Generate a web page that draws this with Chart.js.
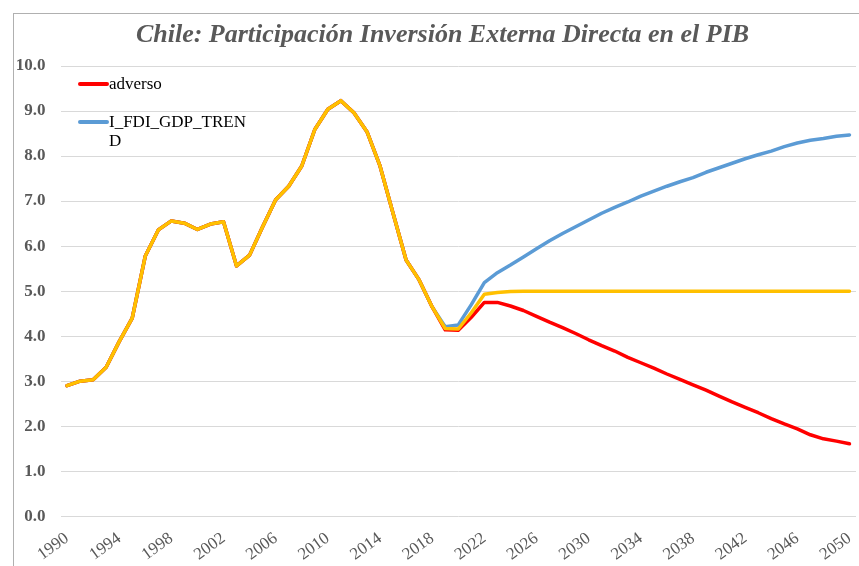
<!DOCTYPE html>
<html>
<head>
<meta charset="utf-8">
<script src="https://cdn.jsdelivr.net/npm/chart.js@4.4.1/dist/chart.umd.min.js"></script>
<style>
  html, body { margin: 0; padding: 0; background: #ffffff; }
  #wrap { width: 859px; height: 566px; }
</style>
</head>
<body>
<div id="wrap"><canvas id="c" width="859" height="566"></canvas></div>
<script>
const years = ['1990','1991','1992','1993','1994','1995','1996','1997','1998','1999',
  '2000','2001','2002','2003','2004','2005','2006','2007','2008','2009',
  '2010','2011','2012','2013','2014','2015','2016','2017','2018','2019',
  '2020','2021','2022','2023','2024','2025','2026','2027','2028','2029',
  '2030','2031','2032','2033','2034','2035','2036','2037','2038','2039',
  '2040','2041','2042','2043','2044','2045','2046','2047','2048','2049','2050'];

// Shared history 1990-2018
const history = [2.90, 3.00, 3.03, 3.31, 3.88, 4.40, 5.78, 6.36, 6.56, 6.51,
  6.37, 6.49, 6.54, 5.56, 5.80, 6.43, 7.03, 7.33, 7.78, 8.59,
  9.04, 9.23, 8.96, 8.54, 7.78, 6.73, 5.69, 5.25, 4.65];

// 2019-2050
const adversoTail = [4.14, 4.13, 4.42, 4.75, 4.75, 4.67, 4.57, 4.44, 4.31, 4.19,
  4.06, 3.92, 3.79, 3.67, 3.53, 3.41, 3.29, 3.16, 3.04, 2.92,
  2.80, 2.67, 2.54, 2.42, 2.30, 2.17, 2.05, 1.94, 1.81, 1.72, 1.67, 1.61];
const trendTail = [4.21, 4.25, 4.70, 5.19, 5.41, 5.58, 5.76, 5.94, 6.12, 6.28,
  6.43, 6.58, 6.73, 6.86, 6.98, 7.11, 7.22, 7.33, 7.43, 7.52,
  7.64, 7.74, 7.84, 7.94, 8.03, 8.11, 8.21, 8.29, 8.35, 8.39, 8.44, 8.47];
const baseTail = [4.17, 4.16, 4.52, 4.93, 4.97, 4.99, 5.00, 5.00, 5.00, 5.00,
  5.00, 5.00, 5.00, 5.00, 5.00, 5.00, 5.00, 5.00, 5.00, 5.00,
  5.00, 5.00, 5.00, 5.00, 5.00, 5.00, 5.00, 5.00, 5.00, 5.00, 5.00, 5.00];

const seriesNames = ['adverso', 'I_FDI_GDP_TREND', 'base'];
const titleText = 'Chile: Participación Inversión Externa Directa en el PIB';

const adverso = history.concat(adversoTail);
const trend = history.concat(trendTail);
const base = history.concat(baseTail);

const SERIF = '"Liberation Serif", "Times New Roman", serif';

const frameAndBg = {
  id: 'frameAndBg',
  beforeDraw(chart) {
    const ctx = chart.ctx;
    ctx.save();
    ctx.fillStyle = '#ffffff';
    ctx.fillRect(0, 0, chart.width, chart.height);
    ctx.strokeStyle = '#b0b0b0';
    ctx.lineWidth = 1;
    ctx.strokeRect(13.5, 13.5, chart.width + 20, chart.height + 20);
    ctx.restore();
  }
};

const chartTitle = {
  id: 'chartTitle',
  afterDraw(chart, args, opts) {
    const ctx = chart.ctx;
    ctx.save();
    ctx.font = 'italic bold 26px ' + SERIF;
    ctx.fillStyle = '#595959';
    ctx.textAlign = 'center';
    ctx.textBaseline = 'alphabetic';
    ctx.fillText(opts.text, 442.5, 42);
    ctx.restore();
  }
};

const innerLegend = {
  id: 'innerLegend',
  afterDatasetsDraw(chart) {
    const ctx = chart.ctx;
    ctx.save();
    ctx.font = '17px ' + SERIF;
    ctx.textBaseline = 'middle';
    ctx.textAlign = 'left';
    const x0 = 80, x1 = 107, tx = 109, maxW = 142, lineH = 19;
    let y = 84;
    chart.data.datasets.forEach((ds) => {
      if (ds.hideInLegend) return;
      ctx.strokeStyle = ds.borderColor;
      ctx.lineWidth = 4;
      ctx.lineCap = 'round';
      ctx.beginPath();
      ctx.moveTo(x0, y);
      ctx.lineTo(x1, y);
      ctx.stroke();
      const lines = [];
      let cur = '';
      for (const ch of ds.label) {
        if (ctx.measureText(cur + ch).width > maxW && cur) { lines.push(cur); cur = ch; }
        else cur += ch;
      }
      if (cur) lines.push(cur);
      ctx.fillStyle = '#000000';
      lines.forEach((ln, i) => ctx.fillText(ln, tx, y + 1 + i * lineH));
      y += 38;
    });
    ctx.restore();
  }
};

new Chart(document.getElementById('c'), {
  type: 'line',
  data: {
    labels: years,
    datasets: [
      { label: seriesNames[0], data: adverso, borderColor: '#FF0000', order: 0 },
      { label: seriesNames[1], data: trend, borderColor: '#5B9BD5', order: 1 },
      { label: seriesNames[2], data: base, borderColor: '#FFC000', order: -1, hideInLegend: true }
    ]
  },
  options: {
    responsive: false,
    animation: false,
    devicePixelRatio: 1,
    layout: { padding: { left: 10, right: 3, top: 66, bottom: 0 } },
    elements: {
      line: { borderWidth: 3.5, tension: 0, borderCapStyle: 'round', borderJoinStyle: 'round', fill: false },
      point: { radius: 0, hoverRadius: 0 }
    },
    plugins: {
      legend: { display: false },
      tooltip: { enabled: false },
      title: { display: false },
      chartTitle: { text: titleText }
    },
    scales: {
      x: {
        offset: true,
        grid: { display: false },
        border: { display: false },
        ticks: {
          autoSkip: false,
          minRotation: 36,
          maxRotation: 36,
          padding: 4,
          color: '#595959',
          font: { family: SERIF, size: 17 },
          callback(value, index) { return index % 4 === 0 ? years[index] : null; }
        },
        afterFit(scale) { scale.height = 49.7; scale.paddingRight = 0; scale.paddingLeft = 0; }
      },
      y: {
        min: 0,
        max: 10,
        grid: { color: '#d9d9d9', lineWidth: 1, drawTicks: false },
        border: { display: false },
        ticks: {
          stepSize: 1,
          padding: 15,
          color: '#595959',
          font: { family: SERIF, size: 17, weight: 'bold' },
          callback(v) { return Number(v).toFixed(1); }
        },
        afterFit(scale) { scale.width = 50.5; }
      }
    }
  },
  plugins: [frameAndBg, chartTitle, innerLegend]
});
</script>
</body>
</html>
